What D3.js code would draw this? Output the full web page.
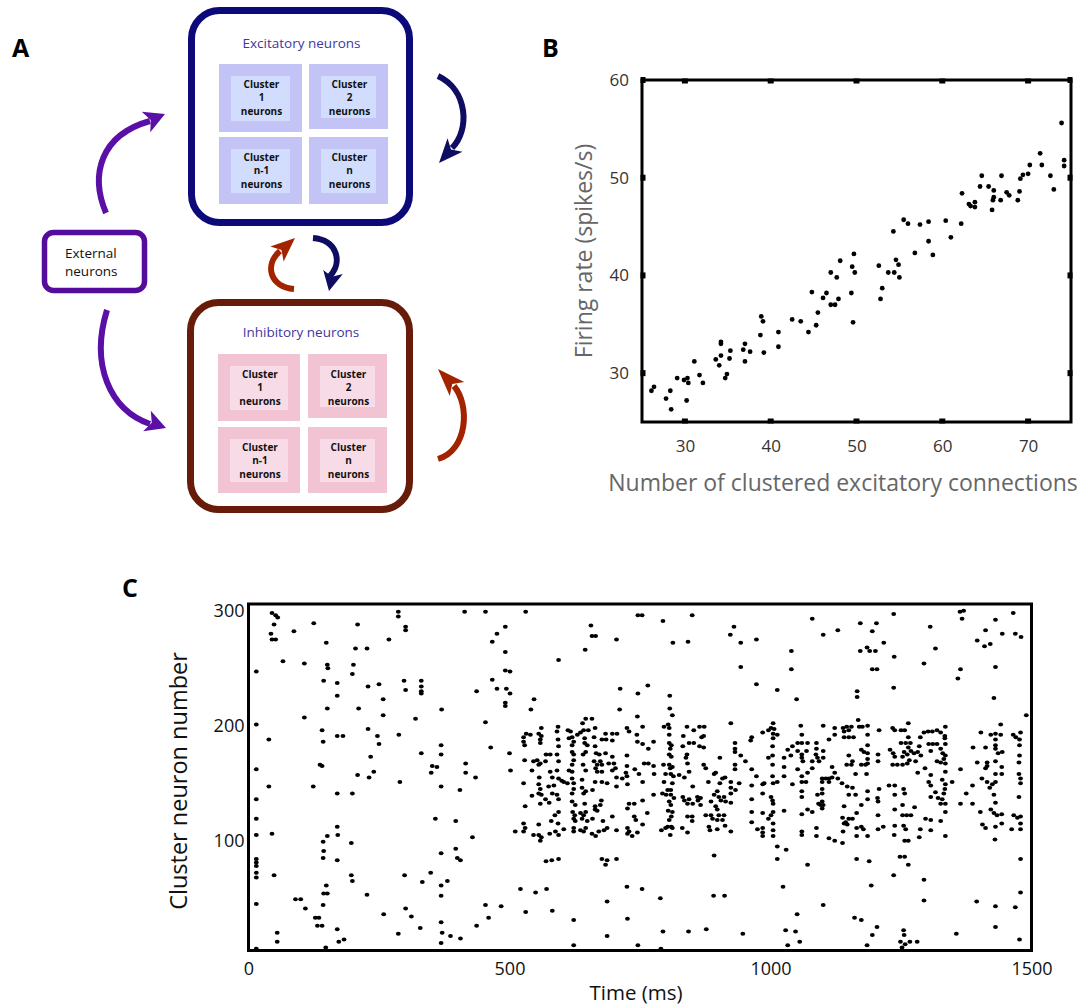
<!DOCTYPE html>
<html>
<head>
<meta charset="utf-8">
<script src="https://cdn.jsdelivr.net/npm/d3@7"></script>
<style>
  body { margin: 0; background: #fff; }
  svg { display: block; }
  text { font-family: "Open Sans", "Noto Sans", sans-serif; }
</style>
</head>
<body>
<svg id="fig" width="1088" height="1008"></svg>
<script>
// ---------------- data ----------------
// Panel A: cluster names shown inside each population box
const clusterIds = ["1", "2", "n-1", "n"];

// Panel B: clustered excitatory connections vs firing rate
const connections = [26.1,26.4,27.8,28.3,28.4,29.1,29.9,30.2,30.3,30.4,31.1,31.7,32.1,33.6,34.0,34.2,34.2,34.2,34.7,34.9,35.2,35.3,36.8,37.0,37.0,37.6,38.8,38.9,39.1,39.2,40.9,40.9,42.5,43.5,44.4,44.8,45.5,45.3,46.1,46.5,47.0,47.0,47.5,47.7,47.9,48.1,49.4,49.5,49.6,49.7,49.8,52.6,52.8,53.0,53.7,54.3,54.4,54.6,54.9,55.0,55.5,56.0,56.8,57.4,58.4,58.4,58.9,60.4,61.0,62.2,62.3,63.1,63.3,63.8,63.8,64.4,64.6,65.4,65.8,65.9,66.0,66.0,66.8,66.9,67.5,67.8,68.8,69.0,69.1,69.4,70.0,70.2,71.4,71.6,72.6,73.0,73.9,74.2,74.2];
const firingRates = [28.2,28.6,27.4,28.2,26.3,29.5,29.3,27.2,29.5,29.0,31.2,29.8,29.0,31.4,30.8,31.8,33.2,33.0,29.5,29.9,31.5,32.3,32.4,33.0,31.2,32.2,33.9,35.8,35.3,32.1,34.2,32.7,35.5,35.3,34.2,38.3,36.2,34.9,37.7,38.2,40.3,37.0,37.0,39.8,37.6,41.5,38.2,40.9,35.2,42.2,40.3,41.0,37.6,38.7,40.3,44.5,40.3,41.6,41.1,39.8,45.7,45.3,42.3,45.2,45.5,43.5,42.1,45.6,43.9,45.3,48.4,47.3,47.1,47.5,47.0,49.1,50.2,49.1,46.7,47.7,48.0,48.7,47.7,50.2,48.5,48.2,47.7,48.6,49.9,50.3,50.4,51.3,52.5,51.3,50.2,48.8,55.6,51.8,51.2];
const rateTicksX = [30, 40, 50, 60, 70];
const rateTicksY = [30, 40, 50, 60];

// Panel C: spike raster, [time (ms), cluster neuron number]
const spikes = [
[15,6],[15,45],[15,72],[15,68],[15,84],[15,81],[15,78],[15,105],[15,119],[15,136],[15,162],[15,201],[15,247],
[45,298],[52,296],[56,294],[49,288],[43,280],[45,275],[52,275],[66,256],[39,188],[39,147],[45,106],[49,70],[55,20],[55,12],
[87,282],[107,254],[107,207],[124,147],[125,289],[90,49],[100,49],[109,41],[128,33],[135,33],[132,26],[141,26],[148,7],
[137,166],[141,165],[141,196],[143,186],[144,239],[149,272],[151,253],[152,250],[151,215],[143,99],[144,91],[143,85],[151,104],[144,54],[151,54],[149,61],[143,44],
[170,237],[170,226],[170,191],[181,191],[170,141],[170,112],[171,105],[170,83],[170,23],[173,12],[183,14],
[199,245],[201,253],[205,267],[209,288],[211,215],[199,141],[197,98],[197,70],[199,65],
[227,267],[229,234],[229,197],[234,173],[209,157],[231,155],[240,160],[247,191],[250,184],[250,236],[258,223],[258,209],[227,53],[259,36],
[269,275],[287,299],[287,295],[301,286],[301,283],[298,239],[301,231],[288,192],[290,151],[299,70],[301,41],[312,34],[287,19],
[320,206],[331,239],[331,234],[331,230],[331,228],[331,176],[329,24],[333,64],
[350,159],[352,165],[361,164],[349,72],[358,119],[370,214],[369,183],[369,175],[369,147],[369,89],[369,61],[369,52],[369,29],[371,20],[369,11],[381,65],[387,17],
[397,117],[397,93],[400,85],[406,83],[405,144],[406,15],[414,299],[416,167],[416,159],[429,103],[435,155],[437,230],[437,26],
[454,299],[454,203],[454,44],[460,33],[464,181],[467,240],[467,273],[476,232],[476,280],[484,43],
[492,286],[492,264],[492,248],[501,247],[494,232],[501,228],[492,220],[492,217],
[531,299],[547,223],[541,214],[521,58],[531,38],[550,55],[571,58],[582,39],[594,257],[623,31],[623,9],[645,266],[656,287],[658,278],[665,278],[687,47],[687,17],[705,275],[711,214],[712,232],
[746,296],[754,296],[794,291],[850,296],[813,272],[842,273],[930,286],[923,279],[943,272],[973,275],[943,251],[1040,265],[1040,249],[1080,293],[1101,279],[1129,283],[1172,289],[1203,289],[1195,282],[1217,272],[1190,265],[1201,265],[1172,265],[1185,268],[1195,249],[1204,249],[1236,297],[1237,260],[1306,286],[1316,267],[1294,254],[1363,299],[1370,300],[1367,293],[1396,274],[1412,283],[1431,292],[1410,269],[1421,271],[1444,280],[1465,298],[1469,280],[1480,277],[1431,251],[1364,249],[1359,241],[1428,224],[973,236],[1013,231],[1050,223],[1236,233],[1166,230],[1166,225],[746,228],[765,235],[807,226],[807,215],
[1236,70],[1294,66],[725,60],[754,58],[789,50],[891,52],[912,52],[1024,60],[1193,61],[1101,44],[1294,48],[1395,47],[1431,43],[1469,42],[1479,55],[726,32],[1051,36],[1161,33],[1174,31],[1204,25],[1195,18],[1255,22],[1256,18],[1356,19],[1431,25],[1477,14],[794,21],[843,21],[877,23],[947,19],[1029,22],[1048,21],[1056,12],[1033,9],[1185,9],[1249,12],[1258,10],[1267,12],[1281,12],[1252,7],[746,9],[790,6],
[646,206],[658,206],[640,202],[593,199],[561,198],[532,193],[540,192],[527,190],[556,193],[561,191],[591,195],[612,196],[617,195],[630,192],[636,194],[642,196],[651,196],[664,198],[684,193],
[527,186],[559,185],[559,188],[593,188],[614,189],[620,190],[623,186],[644,189],[662,190],[677,188],[685,188],
[500,176],[529,183],[594,182],[620,183],[644,185],[649,183],[664,182],
[570,175],[578,175],[591,175],[620,177],[623,175],[646,177],[641,175],[666,176],[672,175],[684,176],
[529,170],[546,169],[553,170],[559,167],[556,166],[569,169],[594,169],[623,170],[620,166],[641,166],[662,169],[668,166],[674,169],[677,166],[690,167],
[502,161],[543,161],[578,160],[591,161],[614,161],[620,160],[646,161],[665,163],[668,160],[677,160],
[557,155],[582,155],[594,154],[600,152],[604,151],[611,150],[620,154],[623,150],[639,153],[664,151],[677,151],[687,150],
[527,150],[556,149],[559,145],[575,147],[585,148],[623,145],[639,146],[646,143],[659,144],
[556,141],[561,140],[543,139],[582,141],[591,140],[620,141],[642,141],
[569,136],[576,133],[594,136],[620,134],[626,131],[644,132],[676,135],[674,131],[664,130],[530,130],[559,132],
[594,125],[621,125],[625,122],[636,124],[642,122],[646,125],[664,127],[668,126],[587,122],
[623,119],[626,117],[639,119],[649,117],[659,119],[679,117],[527,115],[556,114],[580,117],[593,115],
[530,111],[527,108],[511,108],[546,105],[556,105],[561,103],[559,100],[577,106],[588,108],[594,105],[604,110],[623,111],[623,108],[636,109],[642,108],[646,111],[658,106],[665,104],[671,108],[681,109],[687,111],
[570,82],[581,83],[594,84],[677,84],[687,83],[684,79],
[745,208],[812,209],[725,198],[729,195],[755,199],[796,199],[804,201],[806,198],[840,199],[853,196],[864,199],[873,199],
[697,193],[706,193],[744,192],[806,192],[833,191],[868,190],[872,191],
[697,187],[745,186],[755,184],[776,186],[766,180],[806,185],[810,183],[808,180],[832,182],[844,185],[853,185],[864,182],[872,181],
[697,173],[725,174],[806,175],[810,173],[840,175],[838,172],
[700,167],[725,165],[758,167],[766,167],[776,165],[795,166],[806,166],[812,164],[808,163],[841,167],[872,166],
[697,161],[703,163],[723,159],[740,162],[748,158],[777,158],[799,158],[809,158],[825,157],[835,155],[844,160],[876,163],[892,158],
[705,155],[716,154],[725,156],[705,147],[726,149],[755,151],[796,151],[814,156],[812,150],[851,147],[881,151],
[803,144],[809,144],[793,141],[800,140],[776,140],[809,140],[815,137],[832,138],[835,135],[844,136],[860,138],[866,137],[861,135],[851,132],[892,140],
[755,135],[729,132],[739,132],[726,128],[806,134],[809,131],[841,132],[866,131],[886,134],[895,130],
[804,126],[812,125],[764,124],[739,121],[742,118],[697,121],[810,121],[806,118],[841,121],[850,121],[850,117],[876,122],[886,122],[889,119],
[755,114],[803,112],[810,112],[705,109],[726,111],[729,108],[735,104],[726,106],[745,107],[791,109],[799,111],[812,111],[808,105],[831,111],[841,107],[882,112],[884,109],[898,110],
[705,84],[892,87],
[924,202],[1005,202],[1001,198],[996,196],[1007,197],[1058,200],[985,194],[1005,193],[1013,192],[964,190],[962,187],[1005,189],[1060,192],
[932,185],[1052,185],[1060,185],[1071,185],[1088,185],[1004,182],[1033,179],[1042,182],[1052,178],[1069,178],[1088,180],[932,180],[932,177],
[943,174],[903,172],[952,169],[996,172],[1004,174],[1026,172],[1039,174],[1060,175],[1060,172],[1062,169],[1087,175],[1080,169],[1090,172],[1093,169],
[932,166],[932,162],[1004,166],[1026,164],[964,162],[1052,162],[1080,163],[1071,159],[973,156],[1004,156],[1026,156],[1060,156],[895,159],
[908,154],[903,150],[913,155],[924,151],[924,146],[940,150],[933,144],[924,141],[985,149],[988,150],[964,148],[1005,150],[1013,151],[1042,149],[1060,151],[1068,151],
[898,143],[901,138],[905,135],[911,138],[914,134],[924,133],[985,141],[964,136],[1001,138],[1004,135],[1005,132],[1060,143],[1060,138],[1090,140],[1092,132],[1096,131],[1080,125],[1071,127],
[898,127],[901,122],[911,122],[908,118],[913,113],[898,118],[964,125],[985,124],[1005,125],[1001,122],[996,119],[1026,126],[1060,123],[964,116],
[924,108],[1005,115],[1005,109],[1005,104],[985,111],[985,107],[985,104],[975,110],[1060,108],[1060,105],[1088,111],[1088,104],
[1013,95],[1030,92],[1013,84],[1071,79],
[1168,205],[1101,200],[1123,198],[1139,198],[1146,199],[1155,199],[1141,195],[1150,196],[1170,199],[1176,199],[1186,200],[1208,196],[1234,198],[1238,196],[1250,196],[1257,196],[1264,202],[1294,194],
[1123,192],[1186,192],[1112,188],[1141,190],[1150,190],[1159,190],[1264,190],[1250,185],[1259,185],[1268,185],[1287,190],
[1186,183],[1264,181],[1285,182],[1101,178],[1101,172],[1174,179],[1179,177],[1186,176],[1206,175],[1229,179],[1235,176],[1238,173],[1256,177],[1262,175],[1253,173],[1269,178],[1275,176],[1282,177],[1266,170],[1278,169],[1288,174],[1150,174],[1186,171],[1206,169],
[1146,166],[1155,166],[1157,169],[1174,166],[1182,166],[1186,167],[1234,166],[1243,166],[1253,166],[1262,167],[1118,164],[1123,159],[1163,158],[1184,158],[1282,159],[1296,163],
[1099,154],[1106,154],[1112,154],[1118,155],[1099,151],[1112,151],[1129,154],[1137,150],[1147,147],[1157,146],[1099,145],[1099,141],[1227,148],[1238,148],[1150,140],[1163,140],[1186,143],[1208,145],[1255,145],[1257,141],[1238,140],
[1205,137],[1206,134],[1186,136],[1174,131],[1099,134],[1101,131],[1099,128],[1141,130],[1253,131],[1238,127],[1276,129],
[1165,124],[1138,120],[1144,116],[1150,119],[1157,119],[1206,122],[1253,122],[1261,122],[1269,122],[1141,115],[1147,114],[1174,112],[1178,110],[1139,108],[1165,111],[1206,110],[1216,112],[1238,113],[1255,113],[1259,110],[1287,110],
[1165,104],[1186,104],[1237,105],[1285,103],[1112,102],[1123,100],[1138,98],[1257,100],[1264,100],
[1165,84],[1189,82],[1248,86],[1257,86],[1264,79],
[1490,209],[1441,201],[1335,199],[1302,195],[1310,195],[1319,196],[1326,194],[1403,194],[1422,192],[1431,193],[1441,192],[1465,192],[1470,190],[1479,194],
[1334,191],[1334,189],[1335,184],[1303,184],[1311,184],[1319,184],[1431,188],[1431,183],[1477,188],[1477,183],[1412,181],[1388,181],
[1307,178],[1326,180],[1330,176],[1431,180],[1436,176],[1444,177],[1477,174],
[1335,174],[1332,171],[1319,169],[1326,168],[1335,167],[1396,168],[1415,168],[1415,165],[1412,163],[1431,169],[1443,164],[1476,168],
[1431,158],[1443,158],[1307,157],[1335,160],[1364,162],[1405,154],[1476,158],[1479,154],[1479,150],
[1303,151],[1307,148],[1329,153],[1335,149],[1334,145],[1348,151],[1387,148],[1415,151],[1425,149],[1431,151],[1420,146],
[1316,142],[1332,141],[1307,138],[1321,137],[1329,136],[1326,132],[1335,132],[1375,141],[1428,140],[1476,138],[1364,132],[1387,132],[1431,133],
[1335,125],[1402,125],[1422,127],[1428,124],[1434,122],[1443,123],[1466,122],[1473,120],[1479,121],
[1297,119],[1307,118],[1326,117],[1406,114],[1412,111],[1431,112],[1443,115],[1479,115],[1462,110],[1479,110],[1307,109],[1335,104],[1430,101],[1479,84]
];
const timeTicks = [0, 500, 1000, 1500];
const neuronTicks = [100, 200, 300];

// ---------------- drawing ----------------
const svg = d3.select("#fig");

function panelLetter(letter, x, y) {
  svg.append("text").attr("x", x).attr("y", y)
    .attr("font-family", "Liberation Sans, Arial, sans-serif")
    .attr("font-weight", "bold").attr("font-size", 25).attr("fill", "#000")
    .text(letter);
}

// ===== Panel A: network diagram =====
const A = svg.append("g");

function populationBox(cfg) {
  A.append("rect").attr("x", cfg.x).attr("y", cfg.y).attr("width", cfg.w).attr("height", cfg.h)
    .attr("rx", 28).attr("fill", "#fff").attr("stroke", cfg.stroke).attr("stroke-width", 7);
  A.append("text").attr("x", cfg.x + cfg.w / 2 + 1).attr("y", cfg.titleY)
    .attr("text-anchor", "middle").attr("font-size", 13.5).attr("fill", cfg.titleColor)
    .text(cfg.title);
  cfg.cells.forEach((c, i) => {
    A.append("rect").attr("x", c.x).attr("y", c.y).attr("width", c.w).attr("height", c.h).attr("fill", cfg.outer);
    A.append("rect").attr("x", c.x + 12).attr("y", c.y + 12).attr("width", c.w - 24).attr("height", c.h - 23).attr("fill", cfg.inner);
    const lines = ["Cluster", clusterIds[i], "neurons"];
    lines.forEach((t, k) => {
      A.append("text").attr("x", c.x + c.w / 2 + 1).attr("y", c.y + 24 + k * 13.3)
        .attr("text-anchor", "middle").attr("font-size", 10).attr("font-weight", "bold")
        .attr("fill", "#111").text(t);
    });
  });
}

populationBox({
  x: 191.5, y: 10.5, w: 218, h: 212, stroke: "#0c0a78", title: "Excitatory neurons",
  titleY: 48, titleColor: "#4336a0", outer: "#c3c3f6", inner: "#d2dcfd",
  cells: [{x: 219, y: 64, w: 83, h: 68}, {x: 309, y: 64, w: 79, h: 65},
          {x: 219, y: 137, w: 83, h: 67}, {x: 309, y: 137, w: 79, h: 67}]
});
populationBox({
  x: 190.5, y: 302.5, w: 219, h: 207, stroke: "#661c08", title: "Inhibitory neurons",
  titleY: 337, titleColor: "#4336a0", outer: "#f2c3d3", inner: "#f7dbe7",
  cells: [{x: 218, y: 354, w: 82, h: 67}, {x: 308, y: 354, w: 79, h: 64},
          {x: 218, y: 427, w: 82, h: 66}, {x: 308, y: 427, w: 79, h: 66}]
});

// External population
A.append("rect").attr("x", 44.5).attr("y", 232.5).attr("width", 100).attr("height", 58)
  .attr("rx", 9).attr("fill", "#fff").attr("stroke", "#540c9c").attr("stroke-width", 5.5);
A.append("text").attr("x", 65).attr("y", 258).attr("font-size", 13.5).attr("fill", "#111").text("External");
A.append("text").attr("x", 65).attr("y", 276).attr("font-size", 13.5).attr("fill", "#111").text("neurons");

// curved connection arrows
function arrow(d, base, tip, halfW, color) {
  A.append("path").attr("d", d).attr("fill", "none").attr("stroke", color)
    .attr("stroke-width", 6).attr("stroke-linecap", "butt");
  const dx = tip[0] - base[0], dy = tip[1] - base[1], L = Math.hypot(dx, dy);
  const nx = -dy / L, ny = dx / L;
  const back = [base[0] + dx * 0.25, base[1] + dy * 0.25];
  A.append("path")
    .attr("d", `M${base[0] + nx * halfW},${base[1] + ny * halfW}L${tip[0]},${tip[1]}L${base[0] - nx * halfW},${base[1] - ny * halfW}L${back[0]},${back[1]}Z`)
    .attr("fill", color);
}
const purple = "#5a0fa6", navy = "#0e0d62", rust = "#a32200";
arrow("M106,213 C 90,175 100,135 150,121", [146, 122], [165, 114], 11, purple);
arrow("M107,310 C 90,365 110,410 150,424", [147, 421], [166, 428], 11, purple);
arrow("M438,76 C 468,90 470,130 452,148", [455, 145], [439, 163], 10, navy);
arrow("M438,459 C 468,450 470,405 454,386", [457, 389], [438, 369], 10, rust);
arrow("M294,289 C 270,287 264,265 280,251", [277, 254], [295, 238], 10, rust);
arrow("M313,238 C 337,240 343,262 330,276", [333, 272], [329, 291], 10, navy);

panelLetter("A", 12, 57);

// ===== Panel B: firing rate scatter =====
const xB = d3.scaleLinear().domain([25, 75]).range([642, 1071]);
const yB = d3.scaleLinear().domain([25, 60]).range([422, 80]);
const B = svg.append("g");

B.selectAll("circle.rate").data(connections).join("circle")
  .attr("class", "rate")
  .attr("cx", (d) => xB(d)).attr("cy", (d, i) => yB(firingRates[i]))
  .attr("r", 2.4).attr("fill", "#000");

B.append("rect").attr("x", xB(25)).attr("y", yB(60)).attr("width", xB(75) - xB(25)).attr("height", yB(25) - yB(60))
  .attr("fill", "none").attr("stroke", "#000").attr("stroke-width", 3);

// thick tick marks on all four sides
rateTicksX.forEach((v) => {
  [yB(60), yB(25)].forEach((yy, k) => {
    B.append("rect").attr("x", xB(v) - 3).attr("y", k === 0 ? yy - 1.5 : yy - 3.5).attr("width", 6).attr("height", 5).attr("fill", "#000");
  });
});
rateTicksY.forEach((v) => {
  [xB(25), xB(75)].forEach((xx, k) => {
    B.append("rect").attr("x", k === 0 ? xx - 1.5 : xx - 3.5).attr("y", yB(v) - 3).attr("width", 5).attr("height", 6).attr("fill", "#000");
  });
});

const axBx = B.append("g").attr("transform", `translate(0,${yB(25)})`)
  .call(d3.axisBottom(xB).tickValues(rateTicksX).tickSize(0).tickPadding(18));
axBx.select(".domain").remove();
axBx.selectAll("text").attr("font-size", 17).attr("fill", "#333").attr("font-family", "Open Sans, sans-serif");

const axBy = B.append("g").attr("transform", `translate(${xB(25)},0)`)
  .call(d3.axisLeft(yB).tickValues(rateTicksY).tickSize(0).tickPadding(13));
axBy.select(".domain").remove();
axBy.selectAll("text").attr("font-size", 17).attr("fill", "#333").attr("font-family", "Open Sans, sans-serif");

B.append("text").attr("x", 843).attr("y", 491).attr("text-anchor", "middle")
  .attr("font-size", 23).attr("fill", "#666").text("Number of clustered excitatory connections");
B.append("text").attr("transform", "translate(592,251) rotate(-90)").attr("text-anchor", "middle")
  .attr("font-size", 23).attr("fill", "#666").text("Firing rate (spikes/s)");

panelLetter("B", 542, 57);

// ===== Panel C: spike raster =====
const xC = d3.scaleLinear().domain([0, 1500]).range([248.5, 1031.5]);
const yC = d3.scaleLinear().domain([4.5, 305.8]).range([950.5, 604]);
const C = svg.append("g");

C.selectAll("ellipse.spike").data(spikes).join("ellipse")
  .attr("class", "spike")
  .attr("cx", (d) => xC(d[0])).attr("cy", (d) => yC(d[1]))
  .attr("rx", 2.4).attr("ry", 2.0).attr("fill", "#000");

C.append("rect").attr("x", xC(0)).attr("y", yC(305.8)).attr("width", xC(1500) - xC(0)).attr("height", yC(4.5) - yC(305.8))
  .attr("fill", "none").attr("stroke", "#000").attr("stroke-width", 3);

const axCx = C.append("g").attr("transform", `translate(0,${yC(4.5)})`)
  .call(d3.axisBottom(xC).tickValues(timeTicks).tickFormat(d3.format("d")).tickSize(0).tickPadding(12));
axCx.select(".domain").remove();
axCx.selectAll("text").attr("font-size", 18).attr("fill", "#111").attr("font-family", "Open Sans, sans-serif");

const axCy = C.append("g").attr("transform", `translate(${xC(0)},0)`)
  .call(d3.axisLeft(yC).tickValues(neuronTicks).tickFormat(d3.format("d")).tickSize(0).tickPadding(4));
axCy.select(".domain").remove();
axCy.selectAll("text").attr("font-size", 18).attr("fill", "#111").attr("font-family", "Open Sans, sans-serif");

C.append("text").attr("x", 636).attr("y", 1000).attr("text-anchor", "middle")
  .attr("font-size", 20.5).attr("fill", "#111").text("Time (ms)");
C.append("text").attr("transform", "translate(187,781) rotate(-90)").attr("text-anchor", "middle")
  .attr("font-size", 23.5).attr("fill", "#111").text("Cluster neuron number");

panelLetter("C", 122, 597);
</script>
</body>
</html>
